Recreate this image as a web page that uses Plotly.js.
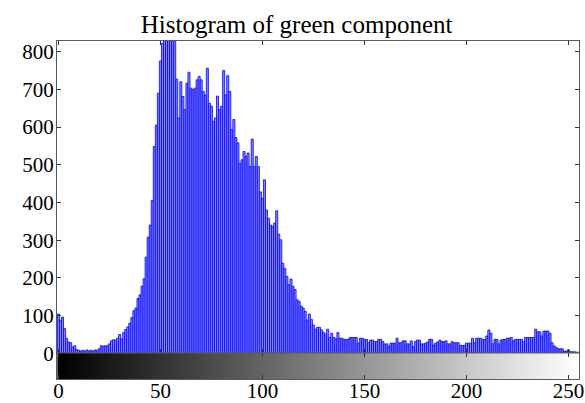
<!DOCTYPE html>
<html>
<head>
<meta charset="utf-8">
<script src="https://cdn.plot.ly/plotly-3.0.1.min.js"></script>
<style>html,body{margin:0;padding:0;background:#fff;}#chart{width:585px;height:403px;}</style>
</head>
<body>
<div id="chart"></div>
<script>
// Intensity levels (0..255) and pixel counts
const levels = Array.from({length: 256}, (_, i) => i);
const counts = [
  104, 88, 96, 66, 40, 30, 28, 16, 20, 10,
  8, 6, 8, 6, 9, 6, 8, 6, 9, 8,
  12, 20, 19, 20, 20, 25, 33, 36, 35, 40,
  50, 38, 55, 63, 70, 80, 95, 113, 120, 145,
  155, 178, 198, 255, 308, 340, 405, 548, 605, 690,
  775, 822, 860, 880, 850, 900, 870, 845, 727, 624,
  720, 681, 646, 716, 745, 703, 699, 703, 725, 734,
  725, 694, 685, 756, 663, 655, 615, 624, 682, 646,
  655, 750, 685, 736, 694, 593, 620, 572, 558, 504,
  513, 535, 522, 531, 495, 568, 495, 522, 495, 428,
  411, 460, 380, 358, 340, 336, 345, 378, 316, 301,
  239, 225, 204, 182, 197, 178, 169, 142, 138, 125,
  120, 111, 88, 104, 90, 75, 64, 69, 69, 62,
  55, 51, 64, 42, 53, 42, 39, 55, 40, 40,
  37, 37, 37, 42, 42, 42, 42, 27, 40, 40,
  37, 37, 28, 35, 35, 31, 31, 37, 37, 31,
  25, 25, 19, 27, 27, 27, 40, 28, 28, 33,
  33, 25, 25, 33, 18, 31, 35, 35, 25, 25,
  27, 30, 37, 37, 22, 27, 30, 35, 31, 31,
  33, 25, 25, 31, 28, 28, 28, 21, 21, 21,
  27, 27, 27, 40, 28, 40, 40, 40, 37, 37,
  46, 62, 53, 25, 37, 37, 25, 35, 37, 37,
  40, 40, 42, 33, 37, 37, 37, 37, 31, 42,
  42, 42, 42, 42, 64, 57, 57, 46, 59, 59,
  59, 53, 28, 20, 16, 12, 12, 12, 6, 6,
  9, 4, 4, 4, 3, 3
];
const xTicks = [0, 50, 100, 150, 200, 250];
const yTicks = [0, 100, 200, 300, 400, 500, 600, 700, 800];
const titleText = 'Histogram of green component';

const font = 'Liberation Serif, Times New Roman, serif';
const xr = [-0.7, 255.2];

const traces = [
  {
    type: 'bar', x: levels, y: counts, width: 1,
    marker: {color: 'rgb(135,135,255)', line: {color: 'rgb(0,0,255)', width: 0.8}},
    xaxis: 'x', yaxis: 'y', hoverinfo: 'skip'
  },
  {
    type: 'heatmap', x: levels, y: [0], z: [levels],
    colorscale: [[0, 'rgb(0,0,0)'], [1, 'rgb(255,255,255)']],
    zmin: 0, zmax: 255, showscale: false,
    xaxis: 'x2', yaxis: 'y2', hoverinfo: 'skip'
  }
];

const axisCommon = {
  showline: true, linecolor: '#5a5a5a', linewidth: 1, mirror: 'ticks',
  ticks: 'inside', ticklen: 4, tickcolor: '#333', tickwidth: 1,
  showgrid: false, zeroline: false,
  tickfont: {family: font, size: 21, color: '#000'}
};

const layout = {
  width: 585, height: 403,
  margin: {l: 57, r: 6, t: 41, b: 24, pad: 0},
  paper_bgcolor: '#fff', plot_bgcolor: '#fff',
  showlegend: false, bargap: 0,
  title: {
    text: titleText, font: {family: font, size: 25, color: '#000'},
    x: 0.507, xref: 'container', xanchor: 'center',
    y: 0.94, yref: 'container', yanchor: 'middle'
  },
  xaxis: Object.assign({}, axisCommon, {
    domain: [0, 1], anchor: 'y', range: xr, tickvals: xTicks,
    showticklabels: false
  }),
  yaxis: Object.assign({}, axisCommon, {
    domain: [0.076, 1], anchor: 'x', range: [0, 828], tickvals: yTicks,
    ticklabelstandoff: -2
  }),
  xaxis2: Object.assign({}, axisCommon, {
    domain: [0, 1], anchor: 'y2', range: xr, tickvals: xTicks,
    ticklabelstandoff: -7
  }),
  yaxis2: Object.assign({}, axisCommon, {
    domain: [0, 0.076], anchor: 'x2', range: [-0.5, 0.5],
    ticks: '', showticklabels: false, mirror: true
  })
};

Plotly.newPlot('chart', traces, layout, {staticPlot: true, displayModeBar: false});
</script>
</body>
</html>
